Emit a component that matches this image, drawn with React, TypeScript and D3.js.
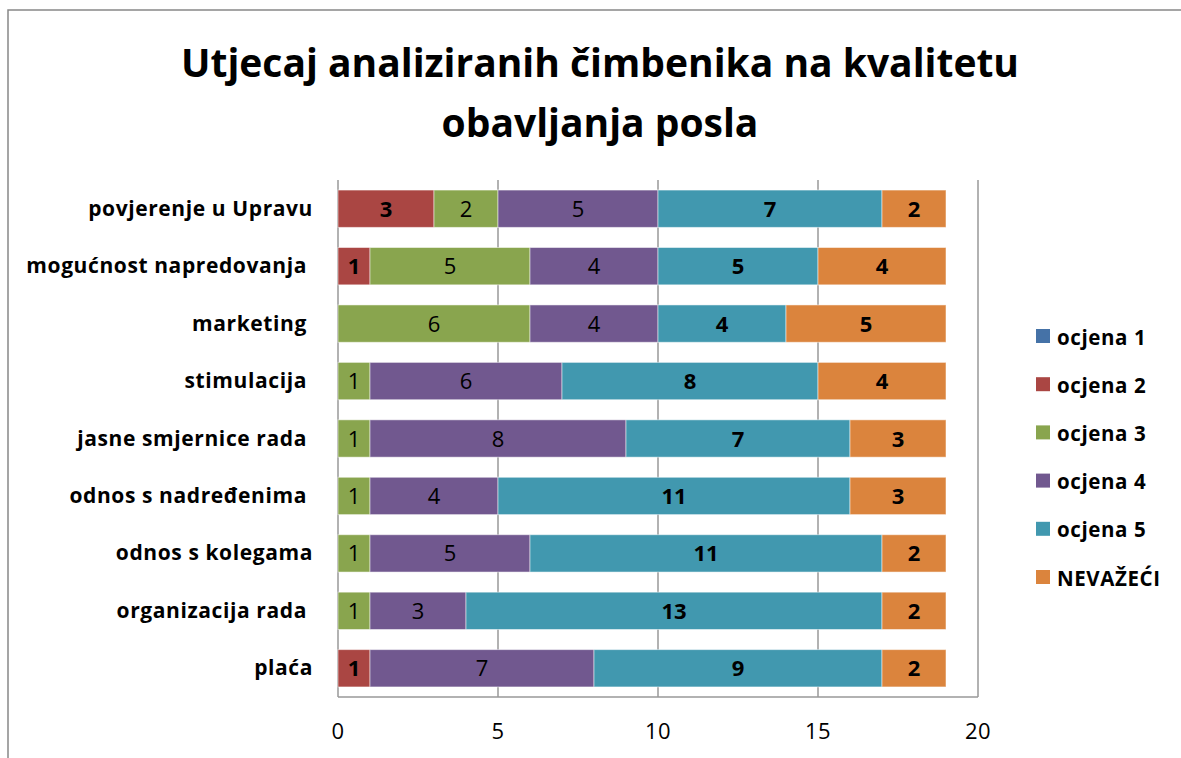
import React from "react";
import * as d3 from "d3";

const categories = [
  "povjerenje u Upravu",
  "mogućnost napredovanja ",
  "marketing ",
  "stimulacija ",
  "jasne smjernice rada ",
  "odnos s nadređenima ",
  "odnos s kolegama",
  "organizacija rada ",
  "plaća",
];
const seriesNames = ["ocjena 1", "ocjena 2", "ocjena 3", "ocjena 4", "ocjena 5", "NEVAŽEĆI"];
const ocjena1 = [0, 0, 0, 0, 0, 0, 0, 0, 0];
const ocjena2 = [3, 1, 0, 0, 0, 0, 0, 0, 1];
const ocjena3 = [2, 5, 6, 1, 1, 1, 1, 1, 0];
const ocjena4 = [5, 4, 4, 6, 8, 4, 5, 3, 7];
const ocjena5 = [7, 5, 4, 8, 7, 11, 11, 13, 9];
const nevazeci = [2, 4, 5, 4, 3, 3, 2, 2, 2];
const seriesValues = [ocjena1, ocjena2, ocjena3, ocjena4, ocjena5, nevazeci];
const colors = ["#4572A7", "#AA4643", "#89A54E", "#71588F", "#4198AF", "#DB843D"];
const boldLabel = [true, true, false, false, true, true];
const xTicks = [0, 5, 10, 15, 20];

const FONT = "'Open Sans', Lato, sans-serif";

export default function App() {
  const W = 1181, H = 758;
  const x = d3.scaleLinear().domain([0, 20]).range([338, 978]);
  const y = d3.scaleBand().domain(categories).range([180, 697]).paddingInner(0.35).paddingOuter(0.175);
  const rows = categories.map((c, i) => {
    const r: Record<string, any> = { cat: c };
    seriesNames.forEach((s, j) => (r[s] = seriesValues[j][i]));
    return r;
  });
  const stacked = d3.stack().keys(seriesNames)(rows as any);

  return (
    <svg width={W} height={H} style={{ position: "absolute", left: 0, top: 0, background: "#fff" }}>
      <rect x={8} y={10} width={1200} height={800} fill="#fff" stroke="#888" strokeWidth={1.5} />
      <text x={600} y={77} textAnchor="middle" fontFamily={FONT} fontWeight="bold" fontSize={39} fill="#000">
        Utjecaj analiziranih čimbenika na kvalitetu
      </text>
      <text x={600} y={137} textAnchor="middle" fontFamily={FONT} fontWeight="bold" fontSize={39} fill="#000">
        obavljanja posla
      </text>
      {xTicks.map((t) => (
        <line key={t} x1={x(t)} x2={x(t)} y1={180} y2={697} stroke="#999" strokeWidth={1.5} />
      ))}
      <line x1={338} x2={978} y1={697} y2={697} stroke="#999" strokeWidth={1.5} />
      {xTicks.map((t) => (
        <text key={"l" + t} x={x(t)} y={739} textAnchor="middle" fontFamily={FONT} fontSize={22} letterSpacing={0.5} fill="#000">
          {t}
        </text>
      ))}
      {categories.map((c) => (
        <text key={c} x={313} y={(y(c) as number) + y.bandwidth() / 2 + 7} textAnchor="end" fontFamily={FONT} fontWeight="bold" fontSize={21} letterSpacing={0.6} fill="#000" style={{ whiteSpace: "pre" }}>
          {c}
        </text>
      ))}
      {stacked.map((layer, j) =>
        layer.map((d, i) => {
          const v = d[1] - d[0];
          if (v <= 0) return null;
          const c = categories[i];
          const x0 = x(d[0]), x1 = x(d[1]);
          const yy = y(c) as number;
          return (
            <g key={j + "-" + i}>
              <rect x={x0} y={yy} width={x1 - x0} height={y.bandwidth()} fill={colors[j]} stroke="#fff" strokeOpacity={0.5} strokeWidth={1} />
              <text x={(x0 + x1) / 2} y={yy + y.bandwidth() / 2 + 8} textAnchor="middle" fontFamily={FONT} fontSize={22} fontWeight={boldLabel[j] ? "bold" : "normal"} fill="#000">
                {v}
              </text>
            </g>
          );
        })
      )}
      {seriesNames.map((s, j) => (
        <g key={s} transform={`translate(1036, ${337 + j * 48.2})`}>
          <rect x={0} y={-8} width={14} height={14} fill={colors[j]} />
          <text x={21} y={7.5} fontFamily={FONT} fontWeight="bold" fontSize={20.5} letterSpacing={0.6} fill="#000">
            {s}
          </text>
        </g>
      ))}
    </svg>
  );
}
